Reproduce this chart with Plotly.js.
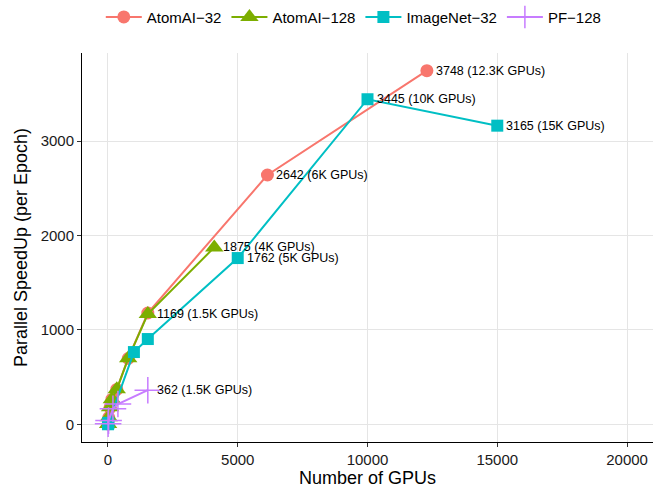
<!DOCTYPE html>
<html>
<head>
<meta charset="utf-8">
<script src="https://cdn.plot.ly/plotly-3.0.1.min.js"></script>
<style>html,body{margin:0;padding:0;background:#fff;}#chart{width:664px;height:490px;}</style>
</head>
<body>
<div id="chart"></div>
<script>
// Series data (GPUs vs parallel speedup)
const seriesNames = ["AtomAI\u221232", "AtomAI\u2212128", "ImageNet\u221232", "PF\u2212128"];
const atomai32GPUs = [6, 30, 80, 150, 340, 780, 1536, 6144, 12288];
const atomai32Speedup = [5, 72, 178, 264, 370, 698, 1180, 2642, 3748];
const atomai128GPUs = [6, 30, 80, 150, 340, 780, 1536, 4096];
const atomai128Speedup = [5, 74, 180, 266, 372, 700, 1169, 1875];
const imagenet32GPUs = [1, 8, 16, 1000, 1536, 5000, 10000, 15000];
const imagenet32Speedup = [1, 8, 16, 766, 904, 1762, 3445, 3165];
const pf128GPUs = [6, 24, 192, 384, 1536];
const pf128Speedup = [6, 40, 165, 215, 362];

// Labelled points
const labelX = [12288, 6144, 10000, 15000, 4096, 5000, 1536, 1536];
const labelY = [3748, 2642, 3445, 3165, 1875, 1762, 1169, 362];
const labelText = ["3748 (12.3K GPUs)", "2642 (6K GPUs)", "3445 (10K GPUs)", "3165 (15K GPUs)",
                   "1875 (4K GPUs)", "1762 (5K GPUs)", "1169 (1.5K GPUs)", "362 (1.5K GPUs)"];

const colors = ["#F8766D", "#7CAE00", "#00BFC4", "#C77CFF"];
const font = "Liberation Sans, Arial, sans-serif";

const traces = [
  {x: atomai32GPUs, y: atomai32Speedup, name: seriesNames[0], mode: "lines+markers",
   line: {color: colors[0], width: 2}, marker: {symbol: "circle", size: 13, color: colors[0]}},
  {x: atomai128GPUs, y: atomai128Speedup, name: seriesNames[1], mode: "lines+markers",
   line: {color: colors[1], width: 2}, marker: {symbol: "triangle-up", size: 16, color: colors[1]}},
  {x: imagenet32GPUs, y: imagenet32Speedup, name: seriesNames[2], mode: "lines+markers",
   line: {color: colors[2], width: 2}, marker: {symbol: "square", size: 12, color: colors[2]}},
  {x: pf128GPUs, y: pf128Speedup, name: seriesNames[3], mode: "lines+markers",
   line: {color: colors[3], width: 2},
   marker: {symbol: "cross-thin-open", size: 19, color: colors[3], line: {color: colors[3], width: 1.5}}}
];

const annotations = labelX.map((x, i) => ({
  x: x, y: labelY[i], text: labelText[i], showarrow: false,
  xanchor: "left", yanchor: "middle", xshift: 7,
  font: {family: font, size: 12.5, color: "#000"}
}));

const layout = {
  width: 664, height: 490,
  margin: {l: 82, r: 11, t: 53, b: 48, autoexpand: false},
  paper_bgcolor: "#fff", plot_bgcolor: "#fff",
  font: {family: font, color: "#000"},
  showlegend: true,
  legend: {orientation: "h", x: 0.476, xanchor: "center", y: 1.092, yanchor: "middle",
           font: {family: font, size: 15, color: "#000"}, itemwidth: 36, tracegroupgap: 0},
  xaxis: {
    range: [-1000, 21000], tickvals: [0, 5000, 10000, 15000, 20000],
    ticktext: ["0", "5000", "10000", "15000", "20000"],
    showgrid: true, gridcolor: "#E5E5E5", gridwidth: 1, zeroline: false,
    showline: true, linecolor: "#000", linewidth: 1,
    ticks: "outside", ticklen: 4, tickcolor: "#333",
    tickfont: {family: font, size: 15, color: "#1a1a1a"},
    title: {text: "Number of GPUs", font: {family: font, size: 18, color: "#000"}, standoff: 4}
  },
  yaxis: {
    range: [-187, 3935], tickvals: [0, 1000, 2000, 3000],
    showgrid: true, gridcolor: "#E5E5E5", gridwidth: 1, zeroline: false,
    showline: true, linecolor: "#000", linewidth: 1,
    ticks: "outside", ticklen: 4, tickcolor: "#333",
    tickfont: {family: font, size: 15, color: "#1a1a1a"},
    title: {text: "Parallel SpeedUp (per Epoch)", font: {family: font, size: 18, color: "#000"}, standoff: 8}
  },
  annotations: annotations
};

Plotly.newPlot("chart", traces, layout, {displayModeBar: false, staticPlot: true});
</script>
</body>
</html>
